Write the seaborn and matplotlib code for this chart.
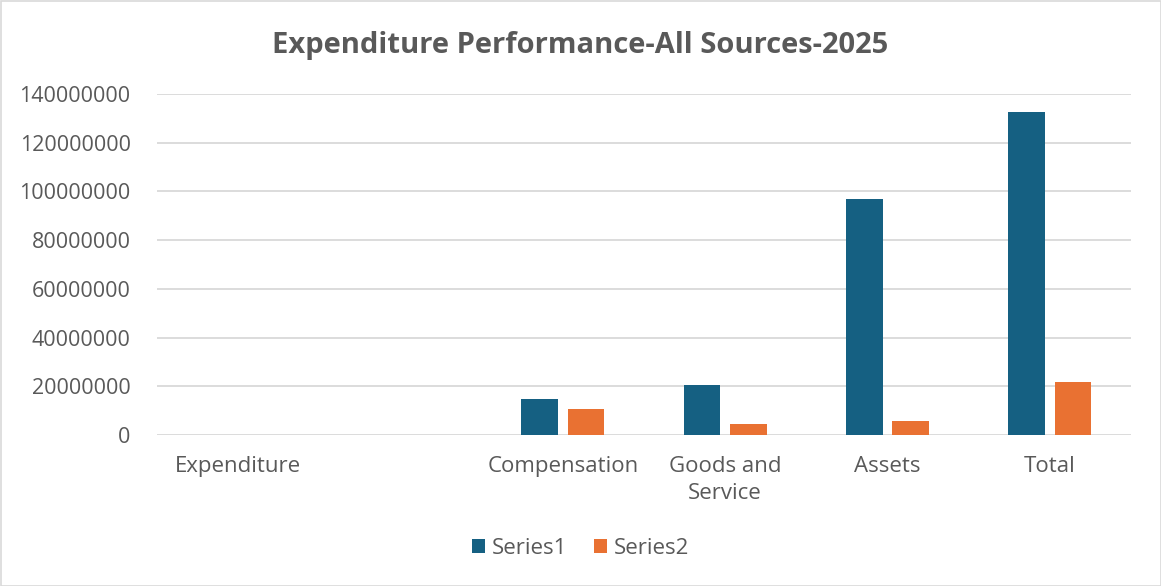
import matplotlib
matplotlib.use("Agg")
import matplotlib.pyplot as plt
import seaborn as sns
import pandas as pd
import numpy as np
from matplotlib.patches import Rectangle

categories = ["Expenditure", " ", "Compensation", "Goods and\nService", "Assets", "Total"]
series1 = [np.nan, np.nan, 14.8e6, 20.6e6, 96.8e6, 132.8e6]
series2 = [np.nan, np.nan, 10.5e6, 4.7e6, 5.9e6, 21.7e6]
series_names = ["Series1", "Series2"]
yticks = [0, 20000000, 40000000, 60000000, 80000000, 100000000, 120000000, 140000000]
title = "Expenditure Performance-All Sources-2025"

df = pd.DataFrame({
    "cat": categories * 2,
    "val": series1 + series2,
    "series": [series_names[0]] * len(categories) + [series_names[1]] * len(categories),
})

sns.set_theme(style="white")
plt.rcParams['font.family'] = ['Open Sans', 'DejaVu Sans']
txt = "#595959"

fig = plt.figure(figsize=(11.61, 5.86), dpi=100)
ax = fig.add_axes([157/1161, 1-435/586, (1131-157)/1161, (435-94)/586])
sns.barplot(data=df, x="cat", y="val", hue="series", order=categories,
            palette=["#156082", "#E97132"], width=0.573, ax=ax, legend=True,
            saturation=1)

# shrink bars to leave a gap inside each group
for p in ax.patches:
    if p.get_height() is None or np.isnan(p.get_height()):
        continue
    w = p.get_width()
    neww = w * 0.785
    p.set_x(p.get_x() + (w - neww) / 2)
    p.set_width(neww)
    p.set_edgecolor("none")

ax.set_ylim(0, 140e6)
ax.set_xlim(-0.5, len(categories) - 0.5)
ax.set_yticks(yticks)
ax.set_yticklabels([str(v) for v in yticks])
ax.yaxis.grid(True, color="#D9D9D9", linewidth=1.3)
ax.set_axisbelow(True)
for s in ax.spines.values():
    s.set_visible(False)
ax.tick_params(axis="y", length=0, labelsize=15.5, colors=txt, pad=19)
ax.tick_params(axis="x", length=0, labelsize=16, colors=txt, pad=15)
for lab in ax.get_xticklabels():
    lab.set_linespacing(1.4)
ax.set_xlabel("")
ax.set_ylabel("")

fig.text(0.5, 1-45/586, title, ha="center", va="center", fontsize=21,
         fontweight="bold", color=txt)

handles, labels = ax.get_legend_handles_labels()
ax.legend_.remove()
fig.legend(handles, labels, loc="center", bbox_to_anchor=(0.5, 1-548/586), ncol=2,
           frameon=False, fontsize=16, labelcolor=txt, handlelength=0.6,
           handleheight=0.6, handletextpad=0.3, columnspacing=1.2)

fig.add_artist(Rectangle((0.5/1161, 0.5/586), 1-1/1161, 1-1/586, transform=fig.transFigure,
                         fill=False, edgecolor="#D9D9D9", linewidth=1.2))

fig.savefig("out.png", dpi=100)
